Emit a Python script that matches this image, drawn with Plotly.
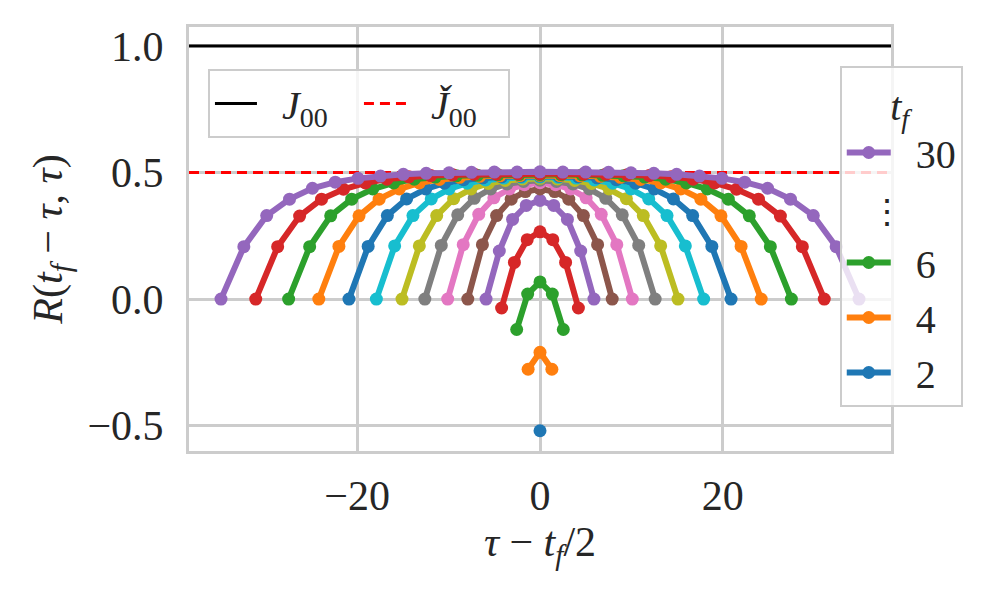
import plotly.graph_objects as go

# ---------------- data ----------------
tf_values = [2, 4, 6, 8, 10, 12, 14, 16, 18, 20, 22, 24, 26, 28, 30]

x_tf2 = [0]
y_tf2 = [-0.52]
x_tf4 = [-1.3, 0, 1.3]
y_tf4 = [-0.277, -0.21, -0.277]
x_tf6 = [-2.55, -1.35, 0, 1.35, 2.55]
y_tf6 = [-0.12, 0.02, 0.068, 0.02, -0.12]
x_tf8 = [-4.2, -2.8, -1.4, 0, 1.4, 2.8, 4.2]
y_tf8 = [-0.035, 0.145, 0.235, 0.266, 0.235, 0.145, -0.035]
x_tf10 = [-5.9, -4.45, -3.0, -1.5, 0, 1.5, 3.0, 4.45, 5.9]
y_tf10 = [0.0, 0.19, 0.315, 0.37, 0.39, 0.37, 0.315, 0.19, 0.0]
x_tf12 = [-7.9, -6.3, -4.75, -3.15, -1.6, 0, 1.6, 3.15, 4.75, 6.3, 7.9]
y_tf12 = [0.0, 0.215, 0.33, 0.395, 0.425, 0.435, 0.425, 0.395, 0.33, 0.215, 0.0]
x_tf14 = [-10.1, -8.4, -6.7, -5.05, -3.35, -1.7, 0, 1.7, 3.35, 5.05, 6.7, 8.4, 10.1]
y_tf14 = [0.0, 0.215, 0.335, 0.40, 0.435, 0.452, 0.46, 0.452, 0.435, 0.40, 0.335, 0.215, 0.0]
x_tf16 = [-12.6, -10.8, -9.0, -7.2, -5.4, -3.6, -1.8, 0, 1.8, 3.6, 5.4, 7.2, 9.0, 10.8, 12.6]
y_tf16 = [0.0, 0.212, 0.333, 0.398, 0.435, 0.455, 0.465, 0.47, 0.465, 0.455, 0.435, 0.398, 0.333, 0.212, 0.0]
x_tf18 = [-15.1, -13.2, -11.3, -9.45, -7.55, -5.65, -3.8, -1.9, 0, 1.9, 3.8, 5.65, 7.55, 9.45, 11.3, 13.2, 15.1]
y_tf18 = [0.0, 0.21, 0.33, 0.397, 0.435, 0.457, 0.469, 0.475, 0.477, 0.475, 0.469, 0.457, 0.435, 0.397, 0.33, 0.21, 0.0]
x_tf20 = [-17.9, -15.9, -13.9, -11.9, -9.95, -7.95, -5.95, -3.95, -2.0, 0, 2.0, 3.95, 5.95, 7.95, 9.95, 11.9, 13.9, 15.9, 17.9]
y_tf20 = [0.0, 0.21, 0.33, 0.396, 0.435, 0.458, 0.471, 0.478, 0.481, 0.482, 0.481, 0.478, 0.471, 0.458, 0.435, 0.396, 0.33, 0.21, 0.0]
x_tf22 = [-20.9, -18.8, -16.7, -14.6, -12.5, -10.45, -8.35, -6.25, -4.2, -2.1, 0, 2.1, 4.2, 6.25, 8.35, 10.45, 12.5, 14.6, 16.7, 18.8, 20.9]
y_tf22 = [0.0, 0.208, 0.33, 0.396, 0.435, 0.458, 0.472, 0.479, 0.483, 0.485, 0.486, 0.485, 0.483, 0.479, 0.472, 0.458, 0.435, 0.396, 0.33, 0.208, 0.0]
x_tf24 = [-24.2, -22.0, -19.8, -17.6, -15.4, -13.2, -11.0, -8.8, -6.6, -4.4, -2.2, 0, 2.2, 4.4, 6.6, 8.8, 11.0, 13.2, 15.4, 17.6, 19.8, 22.0, 24.2]
y_tf24 = [0.0, 0.208, 0.329, 0.395, 0.435, 0.459, 0.473, 0.481, 0.485, 0.487, 0.488, 0.489, 0.488, 0.487, 0.485, 0.481, 0.473, 0.459, 0.435, 0.395, 0.329, 0.208, 0.0]
x_tf26 = [-27.5, -25.2, -22.9, -20.6, -18.3, -16.0, -13.75, -11.45, -9.15, -6.85, -4.6, -2.3, 0, 2.3, 4.6, 6.85, 9.15, 11.45, 13.75, 16.0, 18.3, 20.6, 22.9, 25.2, 27.5]
y_tf26 = [0.0, 0.207, 0.329, 0.395, 0.435, 0.459, 0.474, 0.482, 0.487, 0.489, 0.491, 0.492, 0.492, 0.492, 0.491, 0.489, 0.487, 0.482, 0.474, 0.459, 0.435, 0.395, 0.329, 0.207, 0.0]
x_tf28 = [-31.1, -28.7, -26.3, -23.9, -21.5, -19.1, -16.75, -14.35, -11.95, -9.55, -7.2, -4.8, -2.4, 0, 2.4, 4.8, 7.2, 9.55, 11.95, 14.35, 16.75, 19.1, 21.5, 23.9, 26.3, 28.7, 31.1]
y_tf28 = [0.0, 0.207, 0.328, 0.395, 0.434, 0.459, 0.474, 0.483, 0.488, 0.491, 0.493, 0.494, 0.495, 0.495, 0.495, 0.494, 0.493, 0.491, 0.488, 0.483, 0.474, 0.459, 0.434, 0.395, 0.328, 0.207, 0.0]
x_tf30 = [-34.9, -32.4, -29.9, -27.4, -24.9, -22.4, -19.9, -17.45, -14.95, -12.45, -9.95, -7.5, -5.0, -2.5, 0, 2.5, 5.0, 7.5, 9.95, 12.45, 14.95, 17.45, 19.9, 22.4, 24.9, 27.4, 29.9, 32.4, 34.9]
y_tf30 = [0.0, 0.207, 0.33, 0.395, 0.438, 0.462, 0.477, 0.486, 0.493, 0.497, 0.499, 0.501, 0.502, 0.502, 0.503, 0.502, 0.502, 0.501, 0.499, 0.497, 0.493, 0.486, 0.477, 0.462, 0.438, 0.395, 0.33, 0.207, 0.0]

series_x = [x_tf2, x_tf4, x_tf6, x_tf8, x_tf10, x_tf12, x_tf14, x_tf16,
            x_tf18, x_tf20, x_tf22, x_tf24, x_tf26, x_tf28, x_tf30]
series_y = [y_tf2, y_tf4, y_tf6, y_tf8, y_tf10, y_tf12, y_tf14, y_tf16,
            y_tf18, y_tf20, y_tf22, y_tf24, y_tf26, y_tf28, y_tf30]

J00_level = 1.0
J00_check_level = 0.5
# legend entries for t_f (top to bottom); the ellipsis sits after the first
legend_tf = [30, 6, 4, 2]

x_ticks = [-20, 0, 20]
y_ticks = [-0.5, 0.0, 0.5, 1.0]
x_range = [-38.4, 38.4]
y_range = [-0.6, 1.075]

# ---------------- styling ----------------
palette = ["#1f77b4", "#ff7f0e", "#2ca02c", "#d62728", "#9467bd",
           "#8c564b", "#e377c2", "#7f7f7f", "#bcbd22", "#17becf"]
FONT = "Liberation Serif"
FS = 42
LFS = 40
GRID = "#cccccc"
TXT = "#262626"
PAD = "\u00a0\u00a0"

fig = go.Figure()

# reference levels (drawn under the curves)
fig.add_trace(go.Scatter(
    x=x_range, y=[J00_level, J00_level], mode="lines",
    line=dict(color="black", width=3),
    name=PAD + "<i>J</i><sub>00</sub>", legend="legend", hoverinfo="skip"))
fig.add_trace(go.Scatter(
    x=x_range, y=[J00_check_level, J00_check_level], mode="lines",
    line=dict(color="red", width=3, dash="10px,6px"),
    name=PAD + "<i>J\u030c</i><sub>00</sub>", legend="legend", hoverinfo="skip"))

for i, (tf, xs, ys) in enumerate(zip(tf_values, series_x, series_y)):
    rank = 1000
    if tf in legend_tf:
        rank = 10 * (legend_tf.index(tf) + 1) + (5 if tf != 30 else 0)
    fig.add_trace(go.Scatter(
        x=xs, y=ys, mode="lines+markers",
        line=dict(color=palette[i % 10], width=6),
        marker=dict(color=palette[i % 10], size=13),
        name=PAD + str(tf), legend="legend2", legendrank=rank,
        showlegend=tf in legend_tf, hoverinfo="skip"))

# placeholder entry that holds the vertical ellipsis in the t_f legend
fig.add_trace(go.Scatter(
    x=[None], y=[None], mode="lines",
    line=dict(color="rgba(0,0,0,0)", width=5),
    name=PAD, legend="legend2", legendrank=20,
    showlegend=True, hoverinfo="skip"))

fig.add_annotation(text="\u22ee", xref="paper", yref="paper",
                   x=1.022, y=0.566, showarrow=False,
                   font=dict(family=FONT, size=34, color=TXT))

axis_common = dict(showgrid=True, gridcolor=GRID, gridwidth=2.5,
                   showline=True, linecolor=GRID, linewidth=3, mirror=True,
                   zeroline=False, ticks="",
                   tickfont=dict(family=FONT, size=FS, color=TXT))

fig.update_layout(
    width=982, height=585,
    margin=dict(l=181, r=99, t=19, b=142),
    paper_bgcolor="white", plot_bgcolor="white",
    font=dict(family=FONT, size=FS, color=TXT),
    xaxis=dict(range=x_range, tickvals=x_ticks,
               title=dict(text="<i>τ</i> − <i>t<sub>f</sub></i>/2",
                          font=dict(family=FONT, size=FS, color=TXT), standoff=0),
               ticklabelstandoff=6, **axis_common),
    yaxis=dict(range=y_range, tickvals=y_ticks, tickformat=".1f",
               title=dict(text="<i>R</i>(<i>t<sub>f</sub></i> − <i>τ</i>, <i>τ</i>)",
                          font=dict(family=FONT, size=FS, color=TXT), standoff=12),
               ticklabelstandoff=14, **axis_common),
    legend=dict(orientation="h", x=0.027, y=0.901,
                xanchor="left", yanchor="top", itemwidth=42,
                entrywidth=92,
                bgcolor="rgba(255,255,255,0.8)", bordercolor=GRID,
                borderwidth=2, font=dict(family=FONT, size=LFS, color=TXT)),
    legend2=dict(x=0.927, y=0.908, xanchor="left", yanchor="top",
                 traceorder="normal", itemwidth=44,
                 title=dict(text="<i>t<sub>f</sub></i>", side="top center",
                            font=dict(family=FONT, size=LFS, color=TXT)),
                 bgcolor="rgba(255,255,255,0.8)", bordercolor=GRID,
                 borderwidth=2, font=dict(family=FONT, size=LFS, color=TXT)),
)

fig.write_html("out.html")
